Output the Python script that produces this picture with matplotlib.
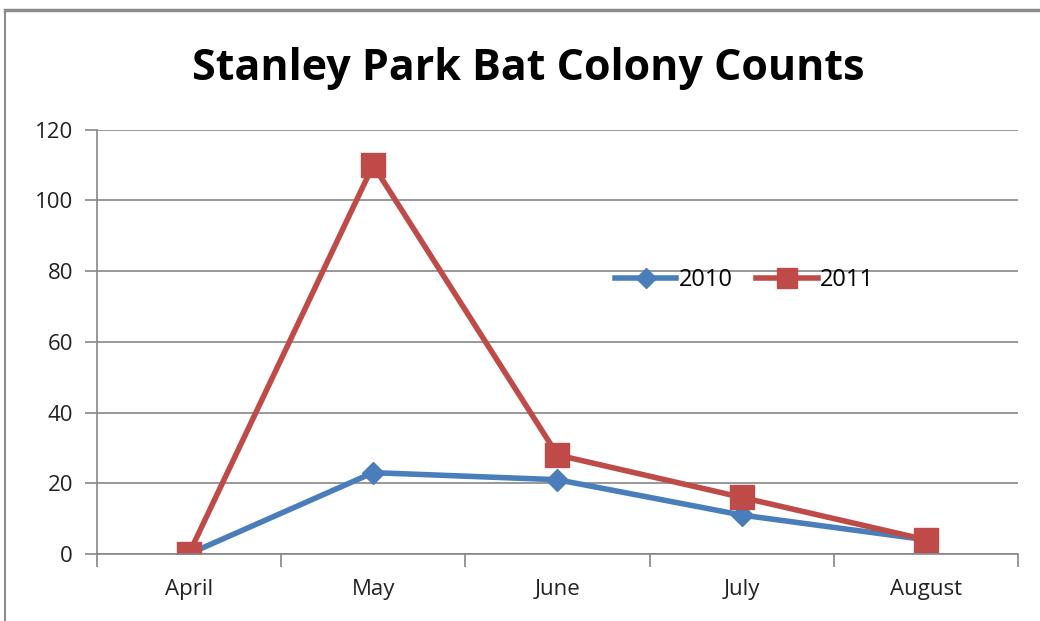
import matplotlib.pyplot as plt
from matplotlib.lines import Line2D
import numpy as np

months = ["April", "May", "June", "July", "August"]
counts_2010 = [0, 23, 21, 11, 4]
counts_2011 = [0, 110, 28, 16, 4]

blue = "#4a7ebb"
red = "#be4b48"
grid = "#868686"

plt.rcParams["font.family"] = ["Open Sans", "DejaVu Sans"]

fig = plt.figure(figsize=(10.4, 6.21), dpi=100)
ax = fig.add_axes([0.093, 0.108, 0.886, 0.683])

x = np.arange(len(months))
ax.plot(x, counts_2010, color=blue, lw=4, marker="D", ms=11, label="2010",
        solid_capstyle="round")
ax.plot(x, counts_2011, color=red, lw=4, marker="s", ms=17, label="2011",
        solid_capstyle="round")

ax.set_xlim(-0.5, len(months) - 0.5)
ax.set_ylim(0, 120)
ax.set_yticks(np.arange(0, 121, 20))
ax.set_xticks(x)
ax.set_xticklabels(months)
ax.set_xticks(np.arange(-0.5, len(months), 1), minor=True)
ax.tick_params(axis="x", which="major", length=0, pad=18, labelsize=16, colors="#222222")
ax.tick_params(axis="x", which="minor", length=9, width=1.2, color=grid)
ax.tick_params(axis="y", length=9, width=1.2, color=grid, labelsize=16, pad=8,
               labelcolor="#222222")
ax.yaxis.grid(True, color=grid, lw=1.2)
ax.set_axisbelow(True)
for s in ["top", "right"]:
    ax.spines[s].set_visible(False)
for s in ["left", "bottom"]:
    ax.spines[s].set_color(grid)
    ax.spines[s].set_linewidth(1.2)

handles = [Line2D([], [], color=blue, lw=4, marker="D", ms=10),
           Line2D([], [], color=red, lw=4, marker="s", ms=14)]
ax.legend(handles, ["2010", "2011"], loc="center", bbox_to_anchor=(0.703, 0.645),
          ncol=2, frameon=False, fontsize=17, handlelength=2.6, columnspacing=1.0,
          handletextpad=0.1)

fig.text(0.508, 0.89, "Stanley Park Bat Colony Counts", ha="center", va="center",
         fontsize=31, fontweight="bold")

# chart frame
fig.add_artist(Line2D([0.005, 1.0], [0.984, 0.984], color="#8c8c8c", lw=2.5))
fig.add_artist(Line2D([0.005, 0.005], [0.0, 0.984], color="#8c8c8c", lw=1.5))

fig.savefig("out.png", dpi=100)
